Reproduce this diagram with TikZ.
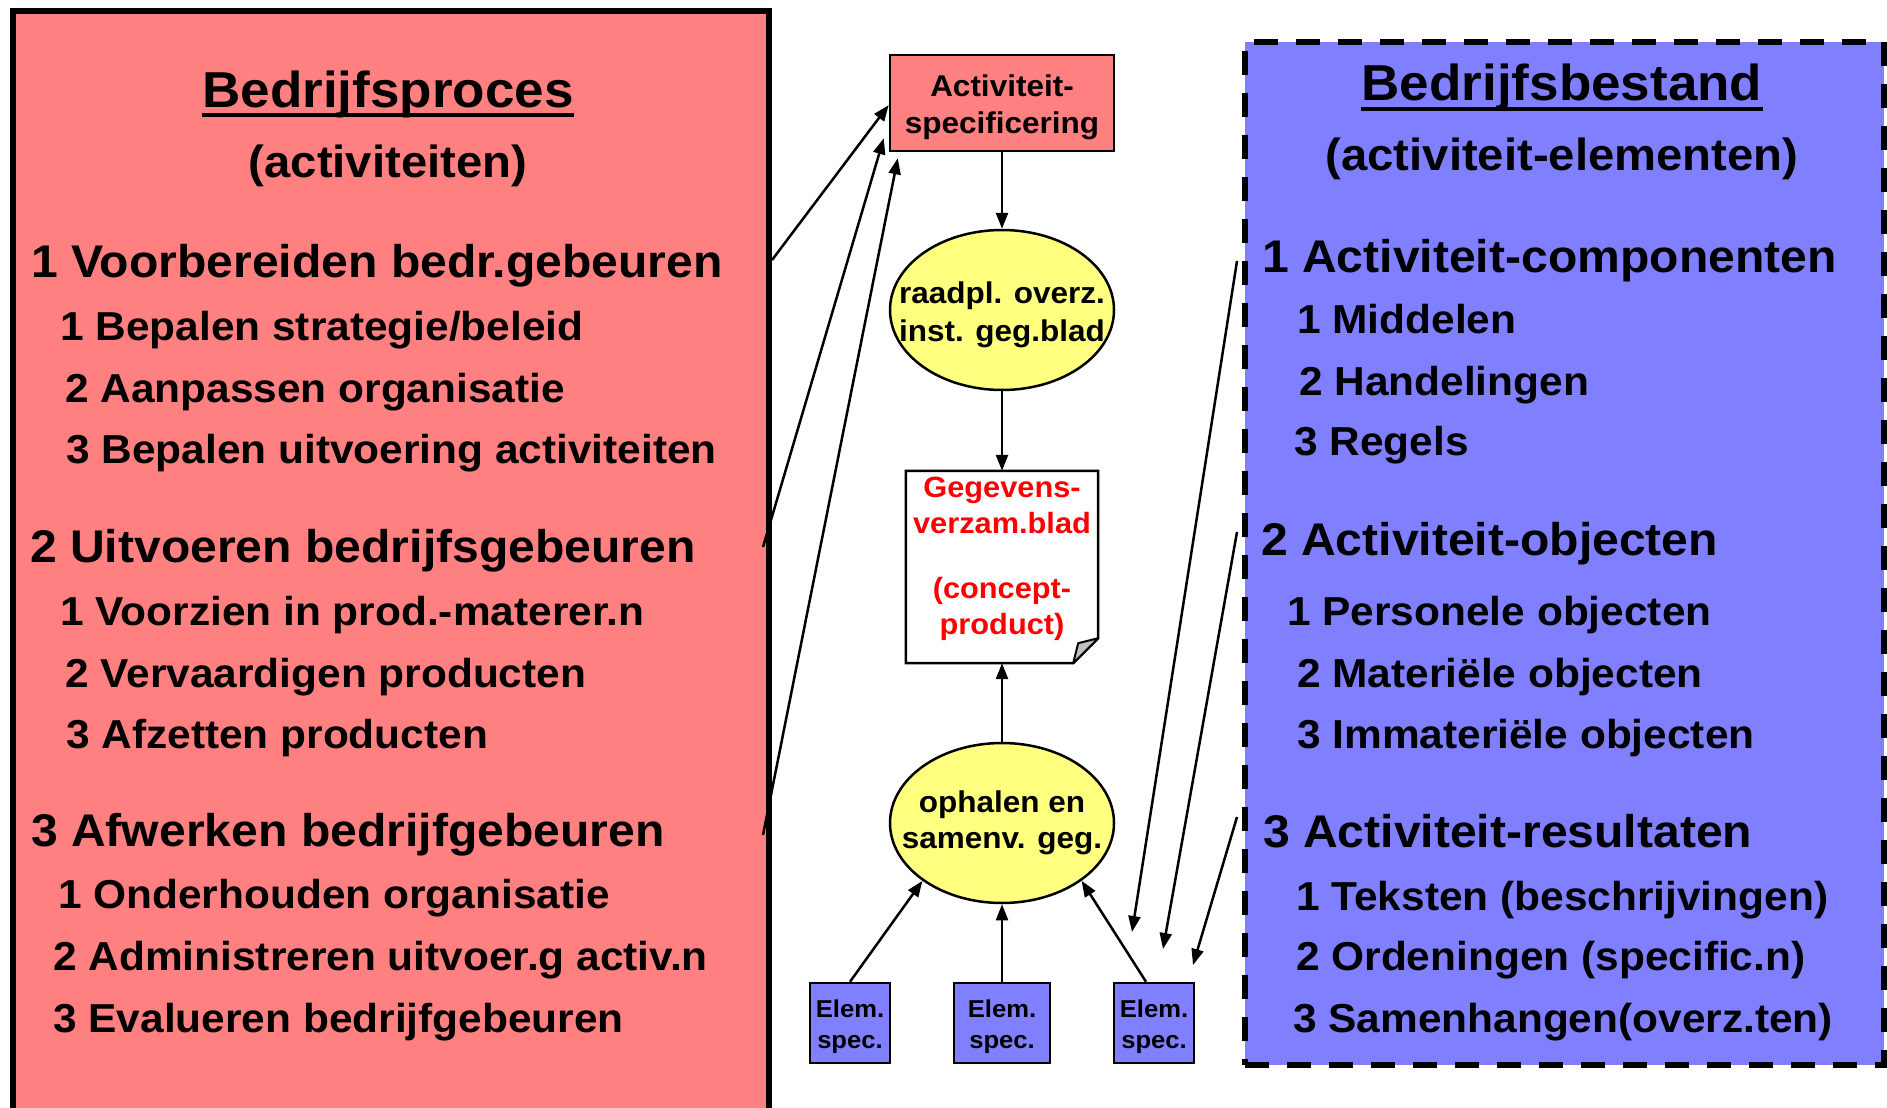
\documentclass[tikz,border=0pt]{standalone}
\usepackage{fontspec}
\setmainfont{Liberation Sans}[FakeStretch=1.05]
\usetikzlibrary{arrows.meta,shapes.geometric}
\definecolor{boxred}{HTML}{FF8080}
\definecolor{boxblue}{HTML}{8080FF}
\definecolor{boxyellow}{HTML}{FFFF80}
\definecolor{foldgray}{HTML}{C0C0C0}
\definecolor{textred}{HTML}{FF0000}
\newcommand{\mtext}[2]{\smash{\makebox[0pt]{\raisebox{#1}{\begin{tabular}[b]{@{}c@{}}#2\end{tabular}}}}}
\begin{document}
\begin{tikzpicture}[x=1pt,y=-1pt,
  panel/.style={draw, line width=6pt, anchor=north west, inner sep=0pt},
  item/.style={anchor=base west, inner sep=0pt, font=\fontsize{45.8}{54}\selectfont\bfseries},
  subitem/.style={anchor=base west, inner sep=0pt, font=\fontsize{40.4}{48}\selectfont\bfseries},
  titletext/.style={anchor=base, inner sep=0pt, font=\fontsize{50.5}{60}\selectfont\bfseries},
  subtitletext/.style={anchor=base, inner sep=0pt, font=\fontsize{45}{54}\selectfont\bfseries},
  mid/.style={draw, line width=2.5pt, inner sep=0pt, font=\fontsize{30}{37}\selectfont\bfseries},
  elem/.style={mid, rectangle, fill=boxblue, minimum height=80pt, font=\fontsize{24.4}{31}\selectfont\bfseries},
  arr/.style={line width=2.5pt, -{Triangle[length=16pt,width=12pt]}},
  uline/.style={line width=4pt}
]
\useasboundingbox (0,0) rectangle (1887,1108);

% panels
\node[panel, fill=boxred, minimum width=756pt, minimum height=1140pt] (proc) at (10,8) {};
\node[panel, fill=boxblue, dash pattern=on 24pt off 18pt, minimum width=639pt, minimum height=1023pt] (best) at (1242,39) {};

% left panel text
\node[titletext] (proct) at (388,107) {Bedrijfsproces};
\draw[uline] ([yshift=-8pt]proct.base west) -- ([yshift=-8pt]proct.base east);
\node[subtitletext] (procs) at (388,177) {(activiteiten)};

\node[item] (l1) at (31,277) {1 Voorbereiden bedr.gebeuren};
\node[subitem] (l11) at (60,340) {1 Bepalen strategie/beleid};
\node[subitem] (l12) at (65,402) {2 Aanpassen organisatie};
\node[subitem] (l13) at (66,463) {3 Bepalen uitvoering activiteiten};
\node[item] (l2) at (30,562) {2 Uitvoeren bedrijfsgebeuren};
\node[subitem] (l21) at (60,625) {1 Voorzien in prod.-materer.n};
\node[subitem] (l22) at (65,687) {2 Vervaardigen producten};
\node[subitem] (l23) at (66,748) {3 Afzetten producten};
\node[item] (l3) at (31,846) {3 Afwerken bedrijfgebeuren};
\node[subitem] (l31) at (58,908) {1 Onderhouden organisatie};
\node[subitem] (l32) at (53,970) {2 Administreren uitvoer.g activ.n};
\node[subitem] (l33) at (53,1032) {3 Evalueren bedrijfgebeuren};

% right panel text
\node[titletext] (bestt) at (1562,100) {Bedrijfsbestand};
\draw[uline] ([yshift=-9pt]bestt.base west) -- ([yshift=-9pt]bestt.base east);
\node[subtitletext] (bests) at (1562,170) {(activiteit-elementen)};

\node[item] (r1) at (1262,272) {1 Activiteit-componenten};
\node[subitem] (r11) at (1297,333) {1 Middelen};
\node[subitem] (r12) at (1299,395) {2 Handelingen};
\node[subitem] (r13) at (1294,455) {3 Regels};
\node[item] (r2) at (1261,555) {2 Activiteit-objecten};
\node[subitem] (r21) at (1287,625) {1 Personele objecten};
\node[subitem] (r22) at (1297,687) {2 Materiële objecten};
\node[subitem] (r23) at (1297,748) {3 Immateriële objecten};
\node[item] (r3) at (1263,847) {3 Activiteit-resultaten};
\node[subitem] (r31) at (1296,910) {1 Teksten (beschrijvingen)};
\node[subitem] (r32) at (1296,970) {2 Ordeningen (specific.n)};
\node[subitem] (r33) at (1293,1032) {3 Samenhangen(overz.ten)};

% middle column
\node[mid, rectangle, fill=boxred, minimum width=224pt, minimum height=96pt] (act) at (1002,103)
  {\mtext{-30pt}{Activiteit-\\specificering}};
\node[mid, ellipse, fill=boxyellow, minimum width=224pt, minimum height=160pt, font=\fontsize{30}{38}\selectfont\bfseries] (e1) at (1002,310)
  {\mtext{-31pt}{raadpl. overz.\\inst. geg.blad}};
\node[inner sep=0pt, rectangle, minimum width=192pt, minimum height=192pt, text=textred, font=\fontsize{29.3}{36}\selectfont\bfseries] (doc) at (1002,567)
  {\mtext{-67pt}{Gegevens-\\verzam.blad\\[29pt](concept-\\product)}};
\draw[line width=2.5pt, line join=miter] (doc.north west) -- (doc.north east) -- ([yshift=25pt]doc.south east)
  -- ([xshift=-25pt]doc.south east) -- (doc.south west) -- cycle;
\draw[line width=2pt, fill=foldgray, line join=round] ([yshift=25pt]doc.south east) -- ([xshift=-25pt]doc.south east)
  -- ([xshift=-20pt,yshift=20pt]doc.south east) -- cycle;
\node[mid, ellipse, fill=boxyellow, minimum width=224pt, minimum height=160pt, font=\fontsize{30}{36}\selectfont\bfseries] (e2) at (1002,823)
  {\mtext{-25pt}{ophalen en\\samenv. geg.}};
\node[elem, minimum width=80pt] (b1) at (850,1023) {\mtext{-25pt}{Elem.\\spec.}};
\node[elem, minimum width=96pt] (b2) at (1002,1023) {\mtext{-25pt}{Elem.\\spec.}};
\node[elem, minimum width=80pt] (b3) at (1154,1023) {\mtext{-25pt}{Elem.\\spec.}};

% middle connectors
\draw[arr] (act) -- (e1);
\draw[arr] (e1) -- (doc);
\draw[arr] (e2) -- (doc);
\draw[arr] (b1.north) -- (e2.216);
\draw[arr] (b2) -- (e2);
\draw[arr] ([xshift=-8pt]b3.north) -- (e2.324);

% from left panel to activity box
\coordinate (p1) at (772,260);
\coordinate (p2) at (763,547);
\coordinate (p3) at (763,835);
\draw[arr] (p1) -- ([yshift=-2pt]act.west);
\draw[arr] (p2) -- ([xshift=-5pt,yshift=14pt]act.south west);
\draw[arr] (p3) -- ([xshift=9pt,yshift=-6pt]act.south west);

% from right panel towards element specs
\coordinate (q1) at (1237,261);
\coordinate (q2) at (1237,532);
\coordinate (q3) at (1237,817);
\coordinate (t1) at (1132,932);
\coordinate (t2) at (1163,949);
\coordinate (t3) at (1193,965);
\draw[arr] (q1) -- (t1);
\draw[arr] (q2) -- (t2);
\draw[arr] (q3) -- (t3);
\end{tikzpicture}
\end{document}
